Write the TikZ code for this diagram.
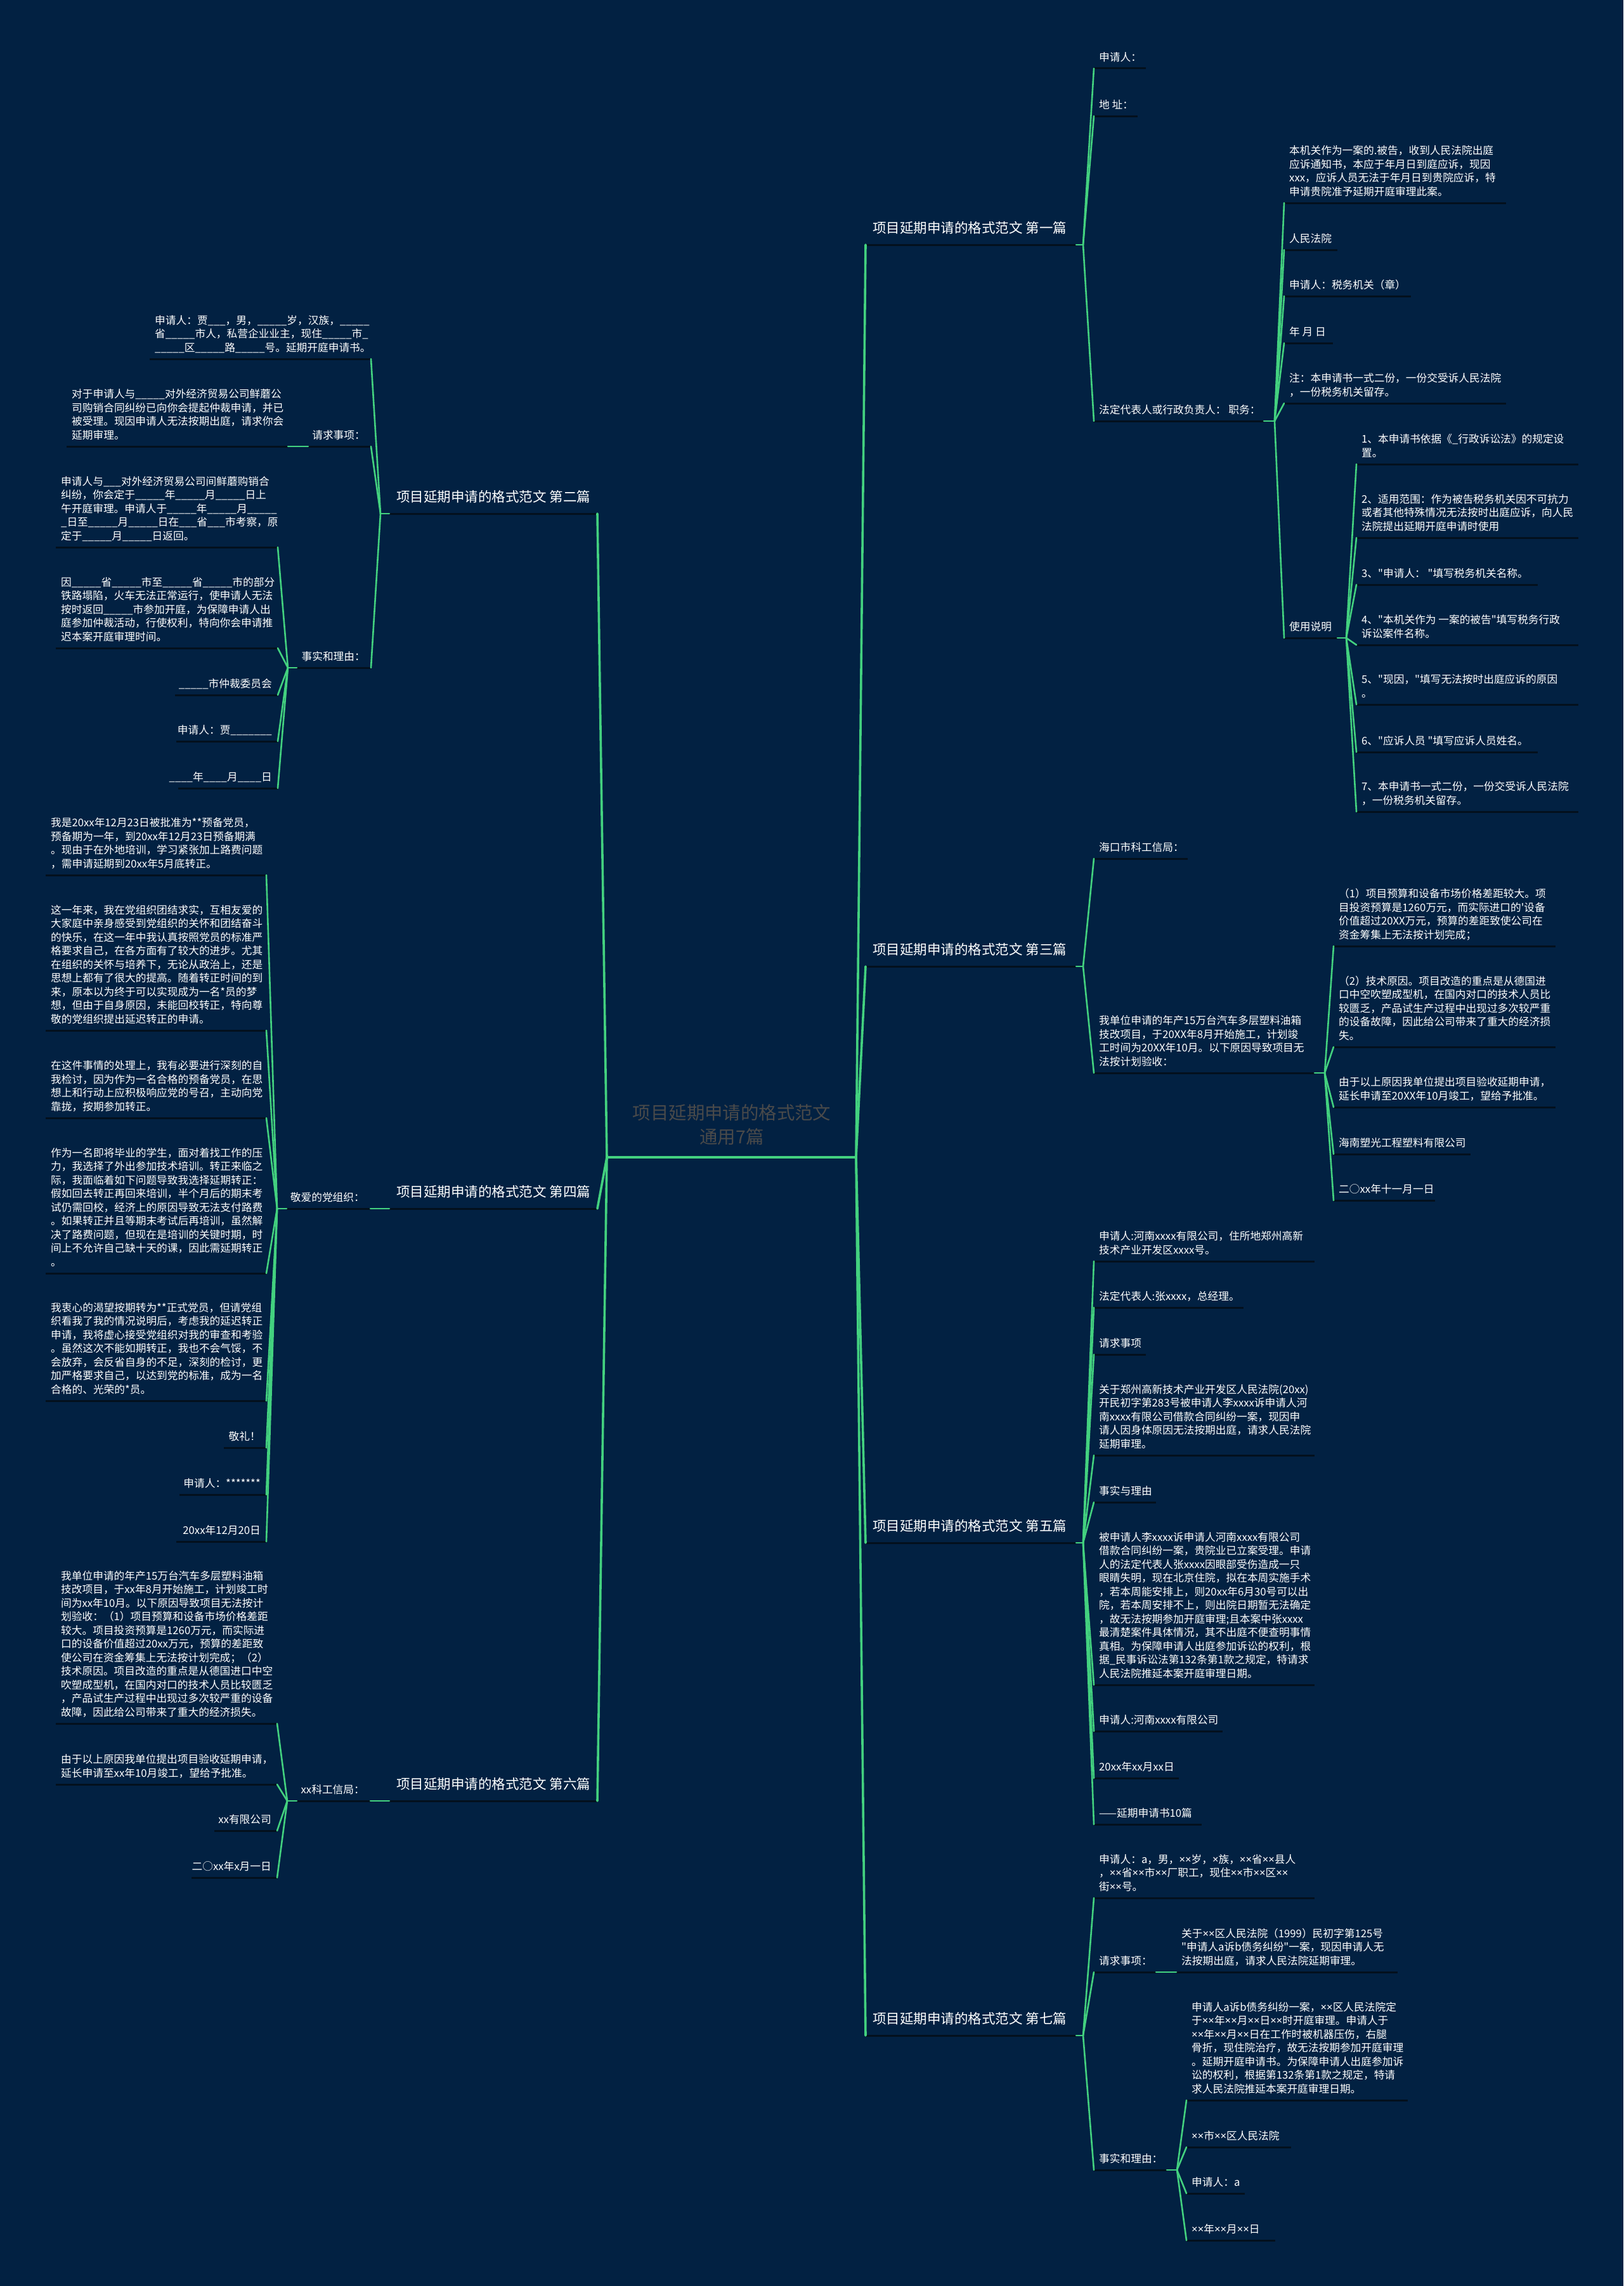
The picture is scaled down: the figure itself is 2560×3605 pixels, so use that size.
\documentclass[tikz,border=0pt]{standalone}
\usepackage{fontspec}
\setmainfont{Noto Sans CJK SC}[Ligatures=TeXOff]
\newfontfamily\latinf{Noto Sans}
\definecolor{bgc}{HTML}{022142}
\definecolor{lgreen}{HTML}{43D17F}
\definecolor{udark}{HTML}{03101D}
\definecolor{rootgray}{HTML}{4A4A4A}
\newcommand\bl{\_\_\_\_\_}
\newcommand\X{{\latinf ×}}
\newcommand\dpr{\rule[-5pt]{0pt}{0pt}}
% leaf with left-aligned text: name, x1, x2, y of underline, text
\newcommand\leafW[5]{%
  \coordinate (#1L) at (#2,#4);
  \coordinate (#1R) at (#3,#4);
  \draw[uline] (#1L) -- (#1R);
  \node[leaf,anchor=south west] (#1) at ({#2+8},{#4-6.5}) {#5\dpr};}
% leaf with right-aligned text
\newcommand\leafE[5]{%
  \coordinate (#1L) at (#2,#4);
  \coordinate (#1R) at (#3,#4);
  \draw[uline] (#1L) -- (#1R);
  \node[leaf,align=right,anchor=south east] (#1) at ({#3-9},{#4-6.5}) {#5\dpr};}
% main branch
\newcommand\branch[5]{%
  \coordinate (#1L) at (#2,#4);
  \coordinate (#1R) at (#3,#4);
  \draw[uline] (#1L) -- (#1R);
  \node[branchtext,anchor=south west] (#1) at ({#2+11},{#4-13}) {#5\dpr};}
\begin{document}
\begin{tikzpicture}[x=1pt,y=-1pt,
  uline/.style={draw=udark,line width=3pt},
  conn/.style={draw=lgreen,line width=2.6pt,line cap=round},
  mainconn/.style={draw=lgreen,line width=3.6pt,line cap=round},
  leaf/.style={text=white,inner sep=0pt,align=left,font=\fontsize{16.7pt}{21.5pt}\selectfont},
  branchtext/.style={text=white,inner sep=0pt,align=left,font=\fontsize{21.5pt}{26pt}\selectfont},
  roottext/.style={text=rootgray,inner sep=0pt,align=center,font=\fontsize{28.4pt}{38pt}\selectfont}]
\path[use as bounding box,fill=bgc] (0,0) rectangle (2560,3605);

% ---------- root ----------
\coordinate (hubL) at (957,1825);
\coordinate (hubR) at (1350,1825);
\node[roottext,anchor=south] (root) at (1154,1809) {项目延期申请的格式范文\\通用7篇\dpr};

% ---------- main branches ----------
\branch{B1}{1365}{1697}{386}{项目延期申请的格式范文 第一篇}
\branch{B3}{1365}{1697}{1524}{项目延期申请的格式范文 第三篇}
\branch{B5}{1365}{1697}{2433}{项目延期申请的格式范文 第五篇}
\branch{B7}{1365}{1697}{3210}{项目延期申请的格式范文 第七篇}
\branch{B2}{614}{942}{810}{项目延期申请的格式范文 第二篇}
\branch{B4}{614}{942}{1906}{项目延期申请的格式范文 第四篇}
\branch{B6}{614}{942}{2840}{项目延期申请的格式范文 第六篇}

% ---------- branch 1 ----------
\leafW{r1a}{1725}{1807}{108}{申请人：}
\leafW{r1b}{1725}{1794}{183}{地 址：}
\leafW{r1c}{1725}{1993}{664}{法定代表人或行政负责人： 职务：}
\leafW{r1c1}{2025}{2375}{320}{本机关作为一案的.被告，收到人民法院出庭\\应诉通知书，本应于年月日到庭应诉，现因\\xxx，应诉人员无法于年月日到贵院应诉，特\\申请贵院准予延期开庭审理此案。}
\leafW{r1c2}{2025}{2109}{394}{人民法院}
\leafW{r1c3}{2025}{2225}{467}{申请人：税务机关（章）}
\leafW{r1c4}{2025}{2102}{541}{年 月 日}
\leafW{r1c5}{2025}{2375}{636}{注：本申请书一式二份，一份交受诉人民法院\\，一份税务机关留存。}
\leafW{r1c6}{2025}{2109}{1006}{使用说明}
\leafW{u1}{2139}{2489}{732}{1、本申请书依据《\_行政诉讼法》的规定设\\置。}
\leafW{u2}{2139}{2489}{848}{2、适用范围：作为被告税务机关因不可抗力\\或者其他特殊情况无法按时出庭应诉，向人民\\法院提出延期开庭申请时使用}
\leafW{u3}{2139}{2425}{922}{3、"申请人： "填写税务机关名称。}
\leafW{u4}{2139}{2489}{1017}{4、"本机关作为 一案的被告"填写税务行政\\诉讼案件名称。}
\leafW{u5}{2139}{2489}{1111}{5、"现因，"填写无法按时出庭应诉的原因\\。}
\leafW{u6}{2139}{2425}{1186}{6、"应诉人员 "填写应诉人员姓名。}
\leafW{u7}{2139}{2489}{1280}{7、本申请书一式二份，一份交受诉人民法院\\，一份税务机关留存。}

% ---------- branch 3 ----------
\leafW{r3a}{1725}{1873}{1354}{海口市科工信局：}
\leafW{r3b}{1725}{2073}{1692}{我单位申请的年产15万台汽车多层塑料油箱\\技改项目，于20XX年8月开始施工，计划竣\\工时间为20XX年10月。以下原因导致项目无\\法按计划验收：}
\leafW{r3b1}{2103}{2453}{1492}{（1）项目预算和设备市场价格差距较大。项\\目投资预算是1260万元，而实际进口的'设备\\价值超过20XX万元，预算的差距致使公司在\\资金筹集上无法按计划完成；}
\leafW{r3b2}{2103}{2453}{1651}{（2）技术原因。项目改造的重点是从德国进\\口中空吹塑成型机，在国内对口的技术人员比\\较匮乏，产品试生产过程中出现过多次较严重\\的设备故障，因此给公司带来了重大的经济损\\失。}
\leafW{r3b3}{2103}{2453}{1746}{由于以上原因我单位提出项目验收延期申请，\\延长申请至20XX年10月竣工，望给予批准。}
\leafW{r3b4}{2103}{2319}{1820}{海南塑光工程塑料有限公司}
\leafW{r3b5}{2103}{2263}{1893}{二○xx年十一月一日}

% ---------- branch 5 ----------
\leafW{r5a}{1725}{2073}{1989}{申请人:河南xxxx有限公司，住所地郑州高新\\技术产业开发区xxxx号。}
\leafW{r5b}{1725}{1961}{2062}{法定代表人:张xxxx，总经理。}
\leafW{r5c}{1725}{1807}{2136}{请求事项}
\leafW{r5d}{1725}{2073}{2295}{关于郑州高新技术产业开发区人民法院(20xx)\\开民初字第283号被申请人李xxxx诉申请人河\\南xxxx有限公司借款合同纠纷一案，现因申\\请人因身体原因无法按期出庭，请求人民法院\\延期审理。}
\leafW{r5e}{1725}{1823}{2369}{事实与理由}
\leafW{r5f}{1725}{2073}{2657}{被申请人李xxxx诉申请人河南xxxx有限公司\\借款合同纠纷一案，贵院业已立案受理。申请\\人的法定代表人张xxxx因眼部受伤造成一只\\眼睛失明，现在北京住院，拟在本周实施手术\\，若本周能安排上，则20xx年6月30号可以出\\院，若本周安排不上，则出院日期暂无法确定\\，故无法按期参加开庭审理;且本案中张xxxx\\最清楚案件具体情况，其不出庭不便查明事情\\真相。为保障申请人出庭参加诉讼的权利，根\\据\_民事诉讼法第132条第1款之规定，特请求\\人民法院推延本案开庭审理日期。}
\leafW{r5g}{1725}{1928}{2730}{申请人:河南xxxx有限公司}
\leafW{r5h}{1725}{1859}{2804}{20xx年xx月xx日}
\leafW{r5i}{1725}{1895}{2877}{——延期申请书10篇}

% ---------- branch 7 ----------
\leafW{r7a}{1725}{2073}{2993}{申请人：a，男，\X\X{}岁，\X{}族，\X\X{}省\X\X{}县人\\，\X\X{}省\X\X{}市\X\X{}厂职工，现住\X\X{}市\X\X{}区\X\X\\街\X\X{}号。}
\leafW{r7b}{1725}{1823}{3110}{请求事项：}
\leafW{r7b1}{1855}{2204}{3110}{关于\X\X{}区人民法院（1999）民初字第125号\\"申请人a诉b债务纠纷"一案，现因申请人无\\法按期出庭，请求人民法院延期审理。}
\leafW{r7c}{1725}{1840}{3422}{事实和理由：}
\leafW{r7c1}{1871}{2220}{3312}{申请人a诉b债务纠纷一案，\X\X{}区人民法院定\\于\X\X{}年\X\X{}月\X\X{}日\X\X{}时开庭审理。申请人于\\\X\X{}年\X\X{}月\X\X{}日在工作时被机器压伤，右腿\\骨折，现住院治疗，故无法按期参加开庭审理\\。延期开庭申请书。为保障申请人出庭参加诉\\讼的权利，根据第132条第1款之规定，特请\\求人民法院推延本案开庭审理日期。}
\leafW{r7c2}{1871}{2036}{3386}{\X\X{}市\X\X{}区人民法院}
\leafW{r7c3}{1871}{1963}{3459}{申请人：a}
\leafW{r7c4}{1871}{2011}{3533}{\X\X{}年\X\X{}月\X\X{}日}

% ---------- branch 2 ----------
\leafW{l2a}{236}{585}{566}{申请人：贾\_\_\_，男，\bl{}岁，汉族，\bl\\省\bl{}市人，私营企业业主，现住\bl{}市\_\\\bl{}区\bl{}路\bl{}号。延期开庭申请书。}
\leafE{l2b}{486}{585}{704}{请求事项：}
\leafW{l2b1}{105}{454}{704}{对于申请人与\bl{}对外经济贸易公司鲜蘑公\\司购销合同纠纷已向你会提起仲裁申请，并已\\被受理。现因申请人无法按期出庭，请求你会\\延期审理。}
\leafE{l2c}{468}{585}{1053}{事实和理由：}
\leafW{l2c1}{88}{438}{863}{申请人与\_\_\_对外经济贸易公司间鲜蘑购销合\\纠纷，你会定于\bl{}年\bl{}月\bl{}日上\\午开庭审理。申请人于\bl{}年\bl{}月\bl\\\_日至\bl{}月\bl{}日在\_\_\_省\_\_\_市考察，原\\定于\bl{}月\bl{}日返回。}
\leafW{l2c2}{88}{438}{1022}{因\bl{}省\bl{}市至\bl{}省\bl{}市的部分\\铁路塌陷，火车无法正常运行，使申请人无法\\按时返回\bl{}市参加开庭，为保障申请人出\\庭参加仲裁活动，行使权利，特向你会申请推\\迟本案开庭审理时间。}
\leafE{l2c3}{276}{438}{1096}{\bl{}市仲裁委员会}
\leafE{l2c4}{278}{438}{1169}{申请人：贾\_\_\_\_\_\_\_}
\leafE{l2c5}{281}{438}{1243}{\_\_\_\_年\_\_\_\_月\_\_\_\_日}

% ---------- branch 4 ----------
\leafE{l4a}{452}{584}{1906}{敬爱的党组织：}
\leafW{l4a1}{72}{420}{1380}{我是20xx年12月23日被批准为**预备党员，\\预备期为一年，到20xx年12月23日预备期满\\。现由于在外地培训，学习紧张加上路费问题\\，需申请延期到20xx年5月底转正。}
\leafW{l4a2}{72}{420}{1625}{这一年来，我在党组织团结求实，互相友爱的\\大家庭中亲身感受到党组织的关怀和团结奋斗\\的快乐，在这一年中我认真按照党员的标准严\\格要求自己，在各方面有了较大的进步。尤其\\在组织的关怀与培养下，无论从政治上，还是\\思想上都有了很大的提高。随着转正时间的到\\来，原本以为终于可以实现成为一名*员的梦\\想，但由于自身原因，未能回校转正，特向尊\\敬的党组织提出延迟转正的申请。}
\leafW{l4a3}{72}{420}{1763}{在这件事情的处理上，我有必要进行深刻的自\\我检讨，因为作为一名合格的预备党员，在思\\想上和行动上应积极响应党的号召，主动向党\\靠拢，按期参加转正。}
\leafW{l4a4}{72}{420}{2008}{作为一名即将毕业的学生，面对着找工作的压\\力，我选择了外出参加技术培训。转正来临之\\际，我面临着如下问题导致我选择延期转正：\\假如回去转正再回来培训，半个月后的期末考\\试仍需回校，经济上的原因导致无法支付路费\\。如果转正并且等期末考试后再培训，虽然解\\决了路费问题，但现在是培训的关键时期，时\\间上不允许自己缺十天的课，因此需延期转正\\。}
\leafW{l4a5}{72}{420}{2209}{我衷心的渴望按期转为**正式党员，但请党组\\织看我了我的情况说明后，考虑我的延迟转正\\申请，我将虚心接受党组织对我的审查和考验\\。虽然这次不能如期转正，我也不会气馁，不\\会放弃，会反省自身的不足，深刻的检讨，更\\加严格要求自己，以达到党的标准，成为一名\\合格的、光荣的*员。}
\leafE{l4a6}{353}{420}{2283}{敬礼！}
\leafE{l4a7}{283}{420}{2357}{申请人：*******}
\leafE{l4a8}{278}{420}{2431}{20xx年12月20日}

% ---------- branch 6 ----------
\leafE{l6a}{468}{584}{2840}{xx科工信局：}
\leafW{l6a1}{88}{437}{2718}{我单位申请的年产15万台汽车多层塑料油箱\\技改项目，于xx年8月开始施工，计划竣工时\\间为xx年10月。以下原因导致项目无法按计\\划验收：（1）项目预算和设备市场价格差距\\较大。项目投资预算是1260万元，而实际进\\口的设备价值超过20xx万元，预算的差距致\\使公司在资金筹集上无法按计划完成；（2）\\技术原因。项目改造的重点是从德国进口中空\\吹塑成型机，在国内对口的技术人员比较匮乏\\，产品试生产过程中出现过多次较严重的设备\\故障，因此给公司带来了重大的经济损失。}
\leafW{l6a2}{88}{437}{2814}{由于以上原因我单位提出项目验收延期申请，\\延长申请至xx年10月竣工，望给予批准。}
\leafE{l6a3}{338}{437}{2887}{xx有限公司}
\leafE{l6a4}{302}{437}{2961}{二○xx年x月一日}

% ---------- connectors ----------
\draw[mainconn] (hubL) -- (hubR);
\foreach \b in {B2,B4,B6} \draw[mainconn] (hubL) -- (\b R);
\foreach \b in {B1,B3,B5,B7} \draw[mainconn] (hubR) -- (\b L);

% right fans
\coordinate (fB1) at (1708,386);
\draw[conn] (B1R) -- (fB1);
\foreach \ch in {r1a,r1b,r1c} \draw[conn] (fB1) -- (\ch L);
\coordinate (fr1c) at (2010,664);
\draw[conn] (r1cR) -- (fr1c);
\foreach \ch in {r1c1,r1c2,r1c3,r1c4,r1c5,r1c6} \draw[conn] (fr1c) -- (\ch L);
\coordinate (fr1c6) at (2123,1006);
\draw[conn] (r1c6R) -- (fr1c6);
\foreach \ch in {u1,u2,u3,u4,u5,u6,u7} \draw[conn] (fr1c6) -- (\ch L);

\coordinate (fB3) at (1708,1524);
\draw[conn] (B3R) -- (fB3);
\foreach \ch in {r3a,r3b} \draw[conn] (fB3) -- (\ch L);
\coordinate (fr3b) at (2089,1692);
\draw[conn] (r3bR) -- (fr3b);
\foreach \ch in {r3b1,r3b2,r3b3,r3b4,r3b5} \draw[conn] (fr3b) -- (\ch L);

\coordinate (fB5) at (1708,2433);
\draw[conn] (B5R) -- (fB5);
\foreach \ch in {r5a,r5b,r5c,r5d,r5e,r5f,r5g,r5h,r5i} \draw[conn] (fB5) -- (\ch L);

\coordinate (fB7) at (1708,3210);
\draw[conn] (B7R) -- (fB7);
\foreach \ch in {r7a,r7b,r7c} \draw[conn] (fB7) -- (\ch L);
\draw[conn] (r7bR) -- (r7b1L);
\coordinate (fr7c) at (1856,3422);
\draw[conn] (r7cR) -- (fr7c);
\foreach \ch in {r7c1,r7c2,r7c3,r7c4} \draw[conn] (fr7c) -- (\ch L);

% left fans
\coordinate (fB2) at (600,810);
\draw[conn] (B2L) -- (fB2);
\foreach \ch in {l2a,l2b,l2c} \draw[conn] (fB2) -- (\ch R);
\draw[conn] (l2bL) -- (l2b1R);
\coordinate (fl2c) at (454,1053);
\draw[conn] (l2cL) -- (fl2c);
\foreach \ch in {l2c1,l2c2,l2c3,l2c4,l2c5} \draw[conn] (fl2c) -- (\ch R);

\draw[conn] (B4L) -- (l4aR);
\coordinate (fl4a) at (437,1906);
\draw[conn] (l4aL) -- (fl4a);
\foreach \ch in {l4a1,l4a2,l4a3,l4a4,l4a5,l4a6,l4a7,l4a8} \draw[conn] (fl4a) -- (\ch R);

\draw[conn] (B6L) -- (l6aR);
\coordinate (fl6a) at (453,2840);
\draw[conn] (l6aL) -- (fl6a);
\foreach \ch in {l6a1,l6a2,l6a3,l6a4} \draw[conn] (fl6a) -- (\ch R);
\end{tikzpicture}
\end{document}
